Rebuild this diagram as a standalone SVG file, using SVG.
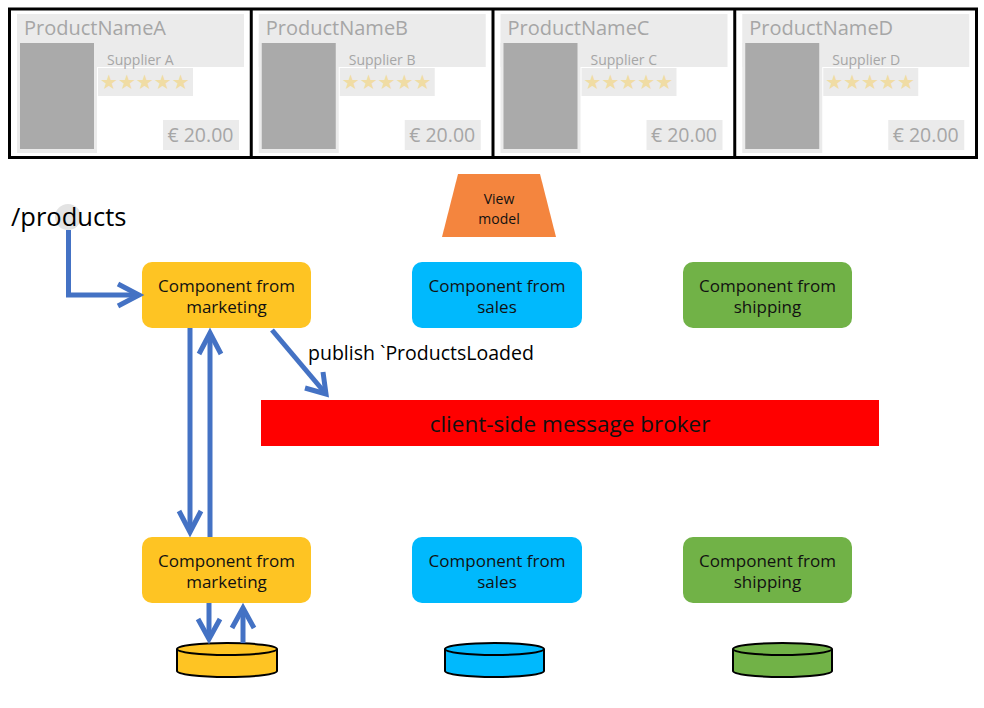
<svg xmlns="http://www.w3.org/2000/svg" width="984" height="708" viewBox="0 0 984 708">
<defs>
<style>
.hdr{fill:#ebebeb}
.img{fill:#aaaaaa}
.ct{font-family:"Open Sans","Noto Sans",sans-serif;fill:#a6a6a6}
.name{font-size:20px}
.sup{font-size:14px}
.price{font-size:19.5px}
.stars{font-family:"DejaVu Sans",sans-serif;font-size:20px;fill:#f0dca4}
.nodet{font-family:"Open Sans","Noto Sans",sans-serif;font-size:17px;fill:#111;text-anchor:middle}
.conn{stroke:#4472c4;stroke-width:5;fill:none}
.head{stroke:#4472c4;stroke-width:5;fill:none;stroke-linejoin:miter}
.cyl{stroke:#000;stroke-width:2}
</style>
<g id="card">
<rect class="hdr" x="7.5" y="14" width="227" height="53"/>
<rect class="hdr" x="7.5" y="43" width="80" height="110"/>
<rect class="img" x="10.5" y="43" width="74" height="106"/>
<rect class="hdr" x="88.5" y="68" width="95" height="28"/>
<rect class="hdr" x="153.5" y="120" width="76" height="30"/>
<text class="stars" x="90.5" y="89">★★★★★</text>
<text class="ct price" x="158" y="142">€ 20.00</text>
</g>
</defs>
<rect width="984" height="708" fill="#fff"/>

<g id="product-cards">
<g id="card-a" transform="translate(9.5,0)">
<use href="#card"/>
<text class="ct name" x="14.5" y="35">ProductNameA</text>
<text class="ct sup" x="97.5" y="65">Supplier A</text>
</g>
<g id="card-b" transform="translate(251.25,0)">
<use href="#card"/>
<text class="ct name" x="14.5" y="35">ProductNameB</text>
<text class="ct sup" x="97.5" y="65">Supplier B</text>
</g>
<g id="card-c" transform="translate(493,0)">
<use href="#card"/>
<text class="ct name" x="14.5" y="35">ProductNameC</text>
<text class="ct sup" x="97.5" y="65">Supplier C</text>
</g>
<g id="card-d" transform="translate(734.75,0)">
<use href="#card"/>
<text class="ct name" x="14.5" y="35">ProductNameD</text>
<text class="ct sup" x="97.5" y="65">Supplier D</text>
</g>
<rect x="9.5" y="9" width="967" height="148.5" fill="none" stroke="#000" stroke-width="3"/>
<line x1="251.25" y1="9" x2="251.25" y2="157.5" stroke="#000" stroke-width="3"/>
<line x1="493" y1="9" x2="493" y2="157.5" stroke="#000" stroke-width="3"/>
<line x1="734.75" y1="9" x2="734.75" y2="157.5" stroke="#000" stroke-width="3"/>
</g>

<g id="view-model">
<polygon points="458,174 540,174 556,237 442,237" fill="#f4853e"/>
<text x="499" y="204" font-family="Open Sans, Noto Sans, sans-serif" font-size="14" fill="#111" text-anchor="middle">View</text>
<text x="499" y="224" font-family="Open Sans, Noto Sans, sans-serif" font-size="14" fill="#111" text-anchor="middle">model</text>
</g>

<g id="products-route">
<circle cx="68" cy="217" r="13" fill="#e3e3e3"/>
<text x="11" y="226" font-family="Open Sans, Noto Sans, sans-serif" font-size="25.5" fill="#000">/products</text>
</g>

<g id="marketing-top">
<rect x="142" y="262" width="169" height="66" rx="10" fill="#fec423"/>
<text class="nodet" x="226.5" y="292">Component from</text>
<text class="nodet" x="226.5" y="313">marketing</text>
</g>
<g id="sales-top">
<rect x="412" y="262" width="170" height="66" rx="10" fill="#00b9fd"/>
<text class="nodet" x="497" y="292">Component from</text>
<text class="nodet" x="497" y="313">sales</text>
</g>
<g id="shipping-top">
<rect x="683" y="262" width="169" height="66" rx="10" fill="#71b247"/>
<text class="nodet" x="767.5" y="292">Component from</text>
<text class="nodet" x="767.5" y="313">shipping</text>
</g>

<g id="broker">
<rect x="261" y="400" width="618" height="46" fill="#ff0000"/>
<text x="570" y="432" font-family="Open Sans, Noto Sans, sans-serif" font-size="22.5" fill="#111" text-anchor="middle">client-side message broker</text>
</g>

<g id="marketing-bottom">
<rect x="142" y="537" width="169" height="66" rx="10" fill="#fec423"/>
<text class="nodet" x="226.5" y="567">Component from</text>
<text class="nodet" x="226.5" y="588">marketing</text>
</g>
<g id="sales-bottom">
<rect x="412" y="537" width="170" height="66" rx="10" fill="#00b9fd"/>
<text class="nodet" x="497" y="567">Component from</text>
<text class="nodet" x="497" y="588">sales</text>
</g>
<g id="shipping-bottom">
<rect x="683" y="537" width="169" height="66" rx="10" fill="#71b247"/>
<text class="nodet" x="767.5" y="567">Component from</text>
<text class="nodet" x="767.5" y="588">shipping</text>
</g>

<g id="db-marketing">
<path class="cyl" d="M177,649 L177,671 A50,6 0 0 0 277,671 L277,649" fill="#fec423"/>
<ellipse class="cyl" cx="227" cy="649" rx="50" ry="6" fill="#fec423"/>
</g>
<g id="db-sales">
<path class="cyl" d="M445,649 L445,671 A49.5,6 0 0 0 544,671 L544,649" fill="#00b9fd"/>
<ellipse class="cyl" cx="494.5" cy="649" rx="49.5" ry="6" fill="#00b9fd"/>
</g>
<g id="db-shipping">
<path class="cyl" d="M733,649 L733,671 A49.5,6 0 0 0 832,671 L832,649" fill="#71b247"/>
<ellipse class="cyl" cx="782.5" cy="649" rx="49.5" ry="6" fill="#71b247"/>
</g>

<g id="connectors">
<path class="conn" d="M68.5,230 V295 H139"/>
<path class="head" d="M118,284 L139,295 L118,306"/>

<path class="conn" d="M190,328 V532"/>
<path class="head" d="M179,511 L190,532 L201,511"/>

<path class="conn" d="M210,537 V333"/>
<path class="head" d="M199,354 L210,333 L221,354"/>

<path class="conn" d="M209,603 V639"/>
<path class="head" d="M198,619 L209,639 L220,619"/>

<path class="conn" d="M243,643 V608"/>
<path class="head" d="M232,628 L243,608 L254,628"/>

<path class="conn" d="M272,330 L326,394"/>
<path class="head" d="M305,388 L326,394 L323,372"/>
<text x="308" y="360" font-family="Open Sans, Noto Sans, sans-serif" font-size="19.5" fill="#000">publish `ProductsLoaded</text>
</g>
</svg>
